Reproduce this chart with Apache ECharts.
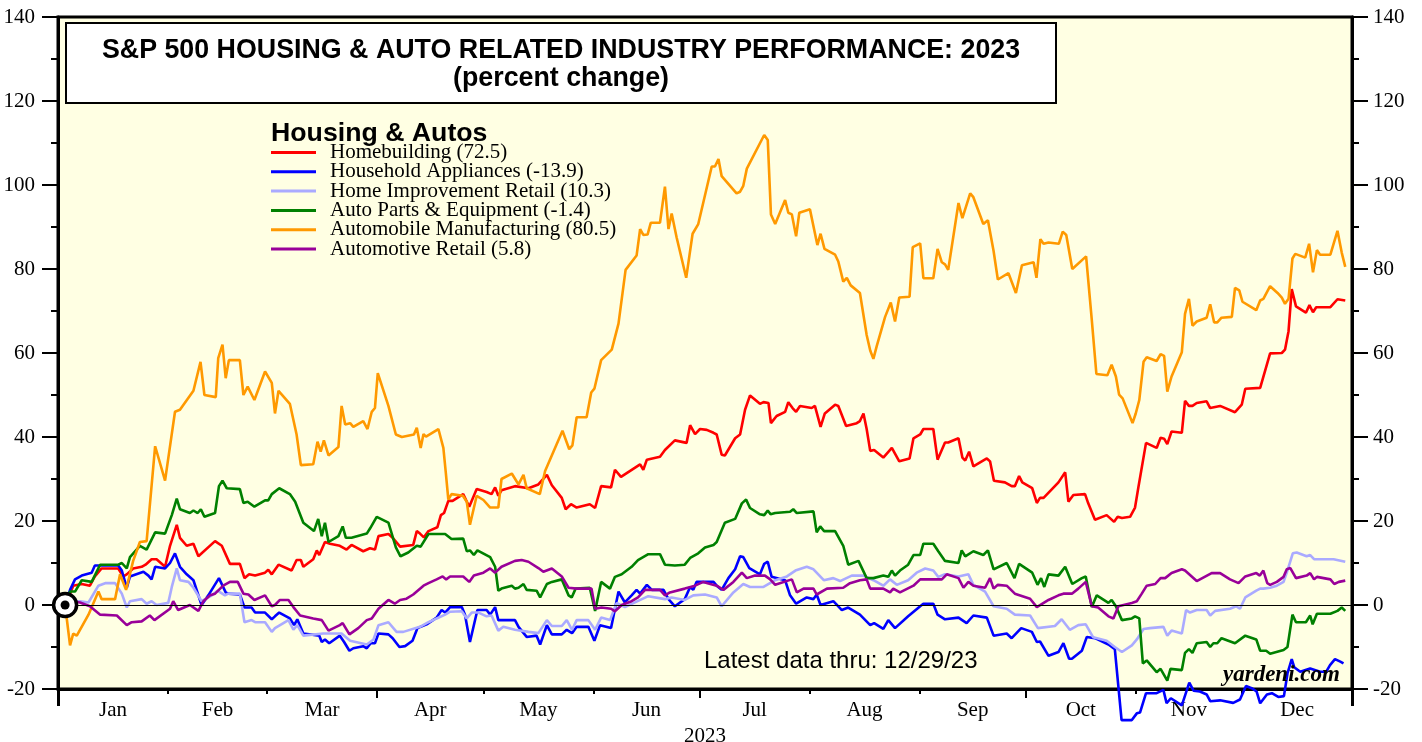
<!DOCTYPE html>
<html>
<head>
<meta charset="utf-8">
<title>S&P 500 Housing & Auto Related Industry Performance: 2023</title>
<script src="https://cdn.jsdelivr.net/npm/echarts@6/dist/echarts.min.js"></script>
<style>
  html, body { margin: 0; padding: 0; background: #fff; }
  #chart { width: 1422px; height: 742px; }
</style>
</head>
<body>
<div id="chart"></div>
<script>
// x = day of 2023 (0 = Jan 1), y = percent change since Dec 30, 2022
const homebuilding = [[2,0],[3.4,2.7],[4.3,4.6],[6.7,5],[9,4.6],[10.4,6.8],[12.3,8.7],[17,8.7],[18.4,6.8],[19.4,7.3],[21.2,8.7],[23.6,9.1],[24.7,9.6],[26.4,10.9],[27.8,10.9],[30.2,9.1],[31.6,14.1],[33.5,19.1],[34.4,16],[36.3,14.1],[38.2,14.6],[39.6,11.6],[44.3,15.2],[46.2,14.1],[48.5,9.8],[51.3,9.8],[52.6,6.4],[53.9,7.3],[55.6,7],[58.4,7.7],[59.3,8.4],[60.3,7.3],
  [62.2,9.6],[65.9,8.2],[67.3,10.7],[68.5,10.7],[69.2,9.1],[72,10.9],[73,13],[73.7,11.9],[75.3,15],[76.7,14.6],[79.5,14.1],[81.4,13.2],[82.8,14.3],[86.1,12.8],[88,13.5],[89.4,13.2],[90.4,16.4],[93.2,16.9],[94.4,16],[96.5,13.9],[100.2,14.3],[101.2,17.6],[102.1,17],[103.2,16.1],[104.5,17.6],[107,18.5],[108,21.4],[108.9,21.9],[110.1,24.8],[111.3,24.8],[114.3,26.4],[116,23.4],[118.1,27.6],[120.9,26.9],
  [122.3,26.4],[123.3,28],[124.2,26],[125.1,27.3],[128.9,28.3],[132.7,27.8],[135.5,28.7],[137.9,31],[139.3,28.5],[142.1,25.5],[143.2,22.8],[144.7,24],[146.3,23.2],[150,24],[151.5,23.1],[153.2,28.3],[156,28],[157.1,32.2],[158.8,30.5],[164.2,33.5],[165.1,32.2],[166.1,34.6],[169.8,35.3],[171.2,36.9],[174,39.2],[177.3,38.6],[178.3,42.8],[179.7,40.7],[181.1,41.9],
  [183,41.7],[184.9,41],[185.8,40.6],[187.2,35.8],[188.1,35.6],[191,39.7],[192.4,40.6],[193.8,46.5],[195.2,49.9],[198,47.9],[199,48.3],[200.4,48.1],[201.1,43.3],[202.7,45],[205.1,46],[206,48.3],[207.2,46.9],[208.2,46],[209.3,47.4],[212.6,46.9],[213.5,47.4],[215.1,42.4],[216.3,45.6],[219.2,47.7],[220.1,47.4],[222.3,42.6],[225.3,43.3],[226.2,43.8],[227.2,45.6],[228.1,41.9],[229.1,36.7],[230.2,36.9],[232.8,35.1],[235.2,37.4],[237.3,34.2],[240.2,34.9],[241.3,39.7],
  [243.2,40.6],[244.1,41.9],[246.9,41.9],[248.1,34.6],[250.2,38.7],[251.1,38.7],[254,39.7],[255.1,35.1],[255.9,34.4],[257,36.5],[258.2,33],[262,34.9],[262.9,34.2],[264,29.6],[267.1,29.2],[269,28.3],[269.9,28.3],[271.1,30.7],[272,29.2],[274.8,27.8],[276.1,24.3],[277,25.5],[278,25.5],[282.2,29.2],[284.1,31.6],[285,24.6],[286.4,26.2],[289.7,26.4],[290.6,24.2],[292.5,20.3],[295.8,21.4],[297.9,19.8],[298.9,21],[300.1,20.7],[302.4,21],
  [303.8,23.2],[304.7,27.8],[306.9,38.6],[309.9,37.4],[311,39.8],[312,39.6],[312.9,38.3],[314.1,41.3],[317,41],[317.9,48.6],[319,47.4],[320,47.4],[321.2,48.1],[324,48.5],[325,46.9],[327.8,47.4],[332,45.9],[333.9,47.7],[334.9,51.5],[339.1,51.7],[341.9,59.9],[345.2,60],[346.1,60.8],[347.1,65.2],[348,75.2],[349.2,71.1],[352,69.6],[353,71.4],[354,69.7],[354.9,70.9],[358.9,70.9],[360.9,72.8],[363.1,72.5]];

const householdAppliances = [[2,0],[3.4,3.6],[4.8,6.1],[6.7,7],[9.5,7.7],[10.4,9.4],[17,9.4],[18,8.2],[19.4,4.1],[20.3,6.8],[24.1,7.9],[25.5,7],[26.4,6.1],[27.4,9.1],[30.2,8.7],[31.6,10],[33,12.3],[34.4,9.1],[36.3,7.3],[38.2,5.9],[40.5,0],[42.4,2.3],[45.4,6.4],[47.3,3],[48,2.7],[51.3,2.5],[52.6,-0.6],[54.6,-0.6],[55.6,-1.8],[58.4,-1.8],[60.3,-3.4],[61.2,-2.7],
  [62.4,-1.8],[65.4,-3.2],[66.6,-4.8],[67.5,-3.4],[69.2,-6.8],[73.7,-7.3],[74.4,-8.8],[75.3,-8.2],[76.5,-9.1],[79.5,-7.3],[80.7,-8.8],[82.2,-10.9],[83.3,-10.3],[86.1,-9.8],[87.1,-10.3],[88.2,-9.1],[89.4,-9.1],[90.4,-6.8],[93.2,-7],[94.4,-7.9],[96.3,-10],[97.9,-9.8],[100,-8.5],[101.4,-5.5],[104,-4.6],[106.8,-3],[108.2,-1.2],[109.2,-1.8],[110.6,-0.5],[113.9,-0.5],[114.8,-2.3],[116.2,-8.8],[118.3,-1.2],[120.9,-1.2],[121.9,-2.3],
  [123.3,-0.5],[124.2,-3.6],[125.1,-3.6],[128.9,-3.6],[129.9,-5.2],[132.2,-7.6],[135,-7.3],[136,-9.4],[137.9,-4.8],[139.3,-7],[142.1,-7],[143.5,-5.9],[145,-6.7],[146.3,-5.2],[149.6,-5.2],[151.3,-8.5],[152.9,-4.8],[156,-5.5],[158.1,3.2],[159.9,0.6],[161.8,2.3],[163.2,3.6],[164.2,2.7],[166.1,4.8],[167.5,3.6],[170.8,3.6],[172.2,1.4],[174,-0.3],[176.8,1.4],[178.3,4.3],[179.2,3.6],[180.1,5.5],
  [184.9,5.5],[185.8,4.6],[187.2,3.6],[189.1,6.4],[191,8.5],[192.4,11.6],[193.3,11.4],[195,8.8],[198,7.3],[199.2,9.8],[200.2,10.3],[201.3,6.7],[205.1,5.9],[206.5,2.3],[208.2,0.3],[211.2,1.8],[213.1,1.4],[214,2.5],[215.1,0],[218.7,0.9],[221.1,-1.2],[222.9,-0.6],[226.2,-2.3],[229.1,-4.8],[230.2,-4.3],[232.8,-5.7],[234.2,-3.6],[236.1,-5.5],[239.8,-2.7],[243.2,-0.3],
  [244.1,0.3],[246.9,0.3],[248.1,-2.3],[250.2,-3.4],[254,-3],[256.3,-4.3],[258.2,-2.5],[262,-3],[263.9,-7.3],[267.6,-6.8],[269,-7.9],[271.7,-5.5],[274.7,-6.4],[276.1,-8.8],[277,-8.7],[279.4,-12.1],[282.2,-11.2],[283.6,-9.1],[285.2,-12.8],[286,-12.8],[288.8,-10.9],[290.2,-7.6],[292.5,-7.9],[296.3,-9.4],[298.1,-10.5],
  [300,-27.4],[302.9,-27.4],[304.3,-25.8],[305.2,-25.6],[306.9,-21],[309.9,-21],[311.8,-20.2],[312.7,-23.4],[313.9,-22.2],[317,-23.9],[319.1,-18.5],[320.3,-20.4],[322.1,-20.6],[324,-21.3],[325,-22.9],[327.8,-22.7],[331.5,-23.3],[333.4,-22.5],[335.1,-19.3],[336.7,-19.8],[338.1,-20.6],[339.1,-23.4],[341,-21.3],[342.4,-21],[344.2,-21.9],[345.8,-21.7],[346.8,-16.3],[348,-12.9],[348.7,-14.8],[350.4,-15.9],[353.2,-15.1],[356,-15.9],[357.7,-15.9],[358.8,-14.3],[360.2,-12.9],[361.7,-13.5],[362.6,-13.9]];

const homeImprovement = [[2,0],[3.9,0.9],[6.2,0.9],[8.6,0.6],[11.4,4.6],[13.3,5.2],[16.1,5.2],[18,2.7],[19.4,-0.6],[20.3,0.9],[23.6,1.4],[25,0.3],[26.4,0.9],[27.8,0],[31.1,0.5],[32.1,4.3],[33.5,8.7],[34.4,5.9],[36.8,5.5],[38.2,4.1],[40.5,0.9],[43.4,2.3],[45,3.4],[47.1,2.3],[48,2.7],[51.3,2.7],[52.6,-4.1],[54.6,-3.6],[55.6,-4.1],[58.4,-4.1],[60.3,-6.4],[61.2,-5.5],
  [65,-3.6],[66.4,-5.9],[67.5,-4.8],[69.2,-7.3],[74.8,-6.8],[80,-6.8],[82.4,-8.5],[87.1,-9.4],[89,-8.2],[90.4,-4.8],[93.2,-4.1],[95.5,-6.4],[97.4,-6.4],[102.1,-5.2],[104.5,-4.1],[106.8,-3.2],[109.2,-2.3],[110.6,-1.6],[113.9,-1.5],[115.3,-3.2],[116.7,-1.8],[118.6,-1.8],[120.9,-2.7],
  [122.3,-2.5],[124.2,-6.1],[125.6,-5.2],[128.9,-5.9],[132.7,-6.4],[135.5,-6.7],[137.9,-3.6],[139.3,-5],[142.1,-5],[143.5,-3.6],[145,-5.9],[146.3,-3.6],[149.6,-3.6],[151.5,-5.9],[153.2,-3],[155.7,-3.6],[157.6,0.5],[159.9,-0.5],[164.7,1.4],[166.5,2.1],[171.2,1.4],[173.1,1.8],[176.8,1.2],[179.2,2.3],[182.5,2.5],
  [185.8,1.8],[187.2,-0.3],[190.5,3],[193.3,5],[195.2,4.3],[199,4.3],[202.3,5.9],[205.6,6.8],[208,8.2],[211.2,9.1],[213.1,8.5],[216,5.9],[218.7,6.4],[220.6,5.7],[223.9,7],[227.2,7],[230,5.9],[232.8,4.6],[234.7,6.1],[236.6,4.8],[239.8,5.9],[242.2,7.7],
  [244.6,8.7],[246.9,8.2],[248.3,6.7],[250.2,7.3],[254,6.8],[256.8,7.3],[258.2,4.8],[261.5,3.2],[263.9,-0.3],[267.6,-0.9],[269.9,-2.3],[274.2,-2.5],[276.4,-5.5],[281.2,-5],[283.1,-3.4],[285.4,-5.9],[287.8,-4.8],[289.9,-4.6],[292,-7.7],[295.8,-8.5],[298.1,-10],[300.1,-11.2],[302.9,-9.6],
  [304.3,-8.2],[306.2,-5.7],[308,-5.5],[311.8,-5.2],[312.9,-7.3],[314.1,-6.1],[317,-6.8],[318.2,-1.2],[319.3,-1.8],[321.2,-1.2],[324,-1.2],[325,-2.5],[326.4,-1.4],[330.6,-0.9],[332.3,-0.3],[333.4,-0.9],[334.9,1.8],[338,3.4],[339.1,3.9],[340,3.9],[341.9,4.1],[343.8,4.6],[345.7,5.5],[346.6,7.7],[348.3,12.3],[349.4,12.5],[352.2,11.6],[353.2,11.9],[354.3,10.9],[357,10.9],[359.8,10.9],[363.1,10.3]];

const autoParts = [[2,0],[3.4,3.2],[4.8,3.2],[6.7,5.9],[9.5,5.5],[11.9,9.6],[17,9.6],[18,10],[19.4,8.7],[20.3,11.4],[23.1,14.1],[25,13.2],[27.4,17.3],[30.2,17],[32.1,21.4],[33.5,25.3],[34.4,22.8],[37.2,21.9],[38.2,22.5],[39.4,21.9],[40.3,22.8],[41.3,21],[44.3,21.9],[45.4,28.3],[46.4,29.6],[47.6,27.8],[51.3,27.6],[52.3,24.3],[53.5,24.6],[55.4,23.4],[58.4,24.9],[59.3,24.9],[60.3,26.4],
  [62.4,27.8],[65.4,26.4],[66.9,24.6],[69.2,19.6],[72.2,17.6],[73.4,20.5],[74.4,16.4],[75.3,19.6],[76.3,15],[79.1,16.4],[80.3,18.7],[81.2,16],[82.8,16],[87.1,17],[88,18.2],[89.9,21],[93.2,19.6],[95.3,13.7],[96.6,11.6],[98.8,12.5],[101.2,14.1],[102.3,13.9],[104.5,16.9],[109.2,16.9],[111,15.7],[114.3,15.8],[115.3,12.8],[116.2,13],[117.3,11.9],[118.3,13],[121.9,11.4],
  [123.3,9.1],[124.2,3.4],[125.1,3.9],[128,4.6],[128.9,3.9],[129.9,4.1],[131.3,5],[132.2,3.6],[135,3.4],[136,1.8],[137.9,5],[139.3,5.5],[142.1,6.1],[144,2.3],[144.9,1.8],[146,3.9],[150,4.1],[151.5,-1.4],[153.2,5.5],[155.7,3.9],[157.1,6.7],[159,7.3],[161.8,9.1],[163.6,10.7],[166.5,12.1],[169.8,12.1],[171.2,9.6],[174,9.4],[176.8,9.6],[178.3,11.2],[180.6,12.3],
  [182.5,13.7],[184.9,14.3],[185.8,15],[188.1,19.6],[191,20.5],[192.9,24.2],[194.1,25.1],[195.2,23.1],[198,21.6],[199.2,21.4],[200.2,22.5],[201,21.6],[202.3,21.9],[206.5,22.2],[207.4,22.8],[208.4,21.9],[213.1,22.3],[214,17.3],[215,18.7],[216.1,17.6],[219.2,17.6],[221.5,14.1],[222.9,9.6],[225.8,10.5],[228.1,6.4],[230,6.4],[232.8,7],[234.2,6.7],[235.2,8.2],[236.1,7],[237.5,8.2],[239.8,9.6],[241.3,11.9],
  [243.2,11.9],[244.1,14.6],[246.9,14.6],[248.3,12.8],[250.2,10.5],[254,10],[254.9,13],[255.9,11.6],[258.2,12.8],[261,11.9],[262.3,13],[263.9,8.5],[267.6,10],[269.8,6.4],[271.1,9.8],[274.8,7.7],[276.3,4.8],[277.3,6.4],[278.2,4.3],[279.4,7.3],[282.2,7],[284.1,9.1],[286.1,5],[288.8,6.4],[289.9,6.8],[291.6,-0.5],[293,2.3],[296.3,0.5],[297.2,1.2],[298.4,-0.3],[300.1,-3.6],[302.9,-3.2],
  [303.8,-2.7],[305,-3.2],[306,-13.9],[307.1,-13.2],[309.9,-16],[311,-15.2],[312.9,-18],[313.8,-15.2],[317,-15.5],[317.9,-11.4],[319,-10.5],[320,-11.4],[321.2,-9.1],[324,-8.8],[325,-10],[325.9,-9.1],[327,-9.1],[328.2,-7.9],[332,-9.1],[334.9,-7.3],[338,-8.2],[339.1,-10.9],[340.8,-10.9],[341.9,-11.6],[345.7,-10.7],[346.8,-10],[348.2,-2.3],[349.2,-4.1],[352,-4.1],[353.2,-2.5],[353.9,-4.6],[355.1,-2.1],[358.9,-2.1],[360.9,-1.4],[362.1,-0.6],[363.1,-1.4]];

const autoMfg = [[2,0],[3.4,-9.6],[4.3,-6.8],[5.3,-7.3],[8.6,-2.3],[11.4,3.2],[12.3,1.4],[16.1,1.4],[17.5,7.3],[19.2,3.6],[21.2,10.5],[23.1,15],[25,15.2],[27.4,37.8],[30.2,29.6],[33,46],[34.4,46.5],[38.2,51],[40.2,57.9],[41.3,50],[44.5,49.5],[45.2,58.8],[46.4,62],[47.3,54],[48.2,58.3],[51.3,58.3],[52.3,50],[53.5,52],[55.4,48.8],[58.4,55.6],[60.3,52.9],[61.2,45.6],
  [62.2,51],[65.4,47.9],[67.3,40.6],[68.5,33.3],[72,33.5],[73.2,38.9],[74.1,36.5],[75,39.2],[76.3,35.6],[79.1,37.6],[80,47.4],[81,43],[82.4,43.3],[83.3,42.4],[86.1,43.8],[87.3,41.9],[88.5,46],[89.4,46.9],[90.2,55.2],[93.2,47.4],[95.3,40.6],[97,40],[100.4,40.6],[101.2,42.2],[102.3,37.4],[103.1,40.7],[103.8,40.1],[107.3,41.9],[108.7,37.4],[109.4,31.4],[110.1,25.1],[111,26.4],[114.2,26],[115.3,24.6],[116.2,19.1],[118.1,26],[120,25],
  [121.9,23.2],[124.2,23.2],[125.1,30],[128,31.3],[129.9,28.7],[131.3,31],[132.2,27.8],[135.9,26.4],[137.4,31.9],[142.3,41.5],[144.2,37.1],[145.1,38],[146.3,44.7],[149.1,44.7],[150.4,50.6],[151.3,51.5],[153.2,58.3],[156.2,60.8],[158.1,67],[160.1,79.8],[163.2,83.2],[164.2,89.5],[165.1,88.1],[166.3,88.2],[167.2,91],[169.8,91],[171.2,99.6],[172.2,89.5],[173.1,93.2],[174.5,87.5],[177.2,77.9],[179,88.4],[180.6,90.7],
  [184.4,104.4],[185.3,104.4],[186.3,106.2],[187.2,102.1],[191.4,98],[192.4,98.4],[193.3,99.8],[194.3,103.9],[199.2,111.9],[200.2,110.7],[201.1,93],[202.3,90.7],[205.1,96.4],[206,93.4],[207,93],[208.2,87.8],[209.1,93.4],[212.1,94.2],[214.2,85.7],[215.1,88.4],[216.2,84.8],[219.2,83.4],[220.1,81.8],[221.5,77],[222.5,77.9],[223.6,76.1],[226.2,74.3],[228.1,64.3],[229.1,60.6],[230,58.6],[230.9,61.5],[233.3,68.6],[234.9,72],[236.1,67.5],[237.3,73.2],[240.2,73.4],[241.1,85.2],[243.2,86.1],
  [244.1,77.8],[246.9,77.8],[248.1,84.8],[249.3,81.6],[250.2,81.1],[251.1,79.8],[254,95.7],[255.1,92.1],[257.3,98],[258.2,97.1],[261,90.7],[262.3,91.6],[263.9,84.3],[265.1,77.5],[268.1,79],[270.2,74.3],[271.9,80.9],[275.2,81.6],[276,77.9],[277.1,87.1],[278,86],[279.4,86.3],[282.3,86],[283.4,88.9],[284.4,88.1],[286.1,80],[290,83],[291.6,67.9],[292.9,55],[296,54.7],[297.2,57.2],[298.4,54.4],[299.3,50.1],[300.3,49.2],[303.1,43.3],[304,45.6],
  [305,48.8],[306.2,57.9],[307.1,59],[309.9,58.1],[311,59.7],[312,59.3],[312.9,50.8],[314.1,54.4],[317,60.2],[317.9,69.3],[319,72.9],[320,66.5],[321.2,67.5],[324,68.4],[325,71.6],[326.1,67.3],[327,67.3],[328.2,68.4],[331.1,68.6],[332,75.5],[333.2,74.9],[334.1,72.2],[338,70.2],[339.1,72.5],[340,72.9],[341.9,75.9],[344,74.3],[345.2,73.2],[346.1,71.7],[347.1,72.9],[348.2,82.5],[349,83.6],[351.8,82.7],[352.9,86],[354,79.2],[355.1,84.5],[356,83.4],[358.9,83.4],[360.9,89.1],[362.1,83.9],[363.1,80.5]];

const autoRetail = [[2,0],[3.9,0.9],[6.2,0.6],[9,-0.3],[11.9,-2.3],[16.6,-2.5],[19.4,-4.8],[20.8,-4.1],[23.6,-3.9],[25.9,-2.5],[27.2,-3.6],[31.6,-0.9],[32.5,0.9],[33.9,-1.2],[37.2,0],[39.6,-1.4],[41,0.9],[42.9,2.3],[44.3,2.7],[46.6,4.6],[48.5,5.5],[50.7,5.5],[52.3,2.7],[53.7,2.5],[55.4,1.2],[58.4,2.3],[60.3,-0.3],[61.2,0],
  [62.6,1.2],[65,1.2],[66.4,-0.5],[68.3,-2.5],[72,-3.2],[74.4,-3.6],[76.3,-6.1],[79.5,-4.8],[80.3,-4.3],[82.2,-7],[84.7,-5.5],[87.1,-3.6],[88.5,-3.2],[90.4,-0.9],[93.2,1.2],[95,0.3],[96.5,1.2],[98.3,1.5],[100.2,2.5],[103.1,4.6],[104.5,5.2],[106.8,6.1],[108.5,6.8],[109.5,6.1],[110.6,6.8],[114.3,6.8],[116,5.5],[117.3,7],[120,7.7],[121.9,8.7],
  [123.3,7.7],[125.1,9.1],[128.9,10.5],[130.8,10.7],[132.7,10.3],[135.5,8.8],[136.9,7.9],[139.3,8.7],[142.1,6.8],[144,4.1],[146.3,3.9],[150.5,3.9],[151.5,-0.9],[153.3,-0.6],[156,-0.9],[157.1,-1.5],[159,0],[161.8,0.9],[163.6,1.8],[165.6,3.6],[169.8,3.6],[171.2,2.3],[172.6,3],[176.8,3.9],[179.7,4.6],[182,5.5],
  [184,5],[185.8,4.6],[187.7,3.6],[190.5,5.5],[192.9,7.7],[194.3,6.4],[196.6,7],[199.4,7],[200.9,6.1],[202.3,4.8],[207,6.1],[208.4,3],[210.3,3.9],[213.1,3.9],[214,2.5],[216.9,3.9],[221.5,4.1],[223.4,5.2],[226.2,5.9],[228.1,6.1],[229.1,3.9],[232.8,3.9],[234.7,3],[235.6,3.9],[237.5,3],[241.3,4.6],[243.2,6.1],
  [244.1,6.1],[249.3,6.1],[250.7,7.3],[254,6.4],[255.4,4.1],[256.8,5.5],[258.2,4.6],[261.5,4.1],[262.9,6.4],[263.9,3.9],[265.1,4.8],[267.6,4.6],[269.9,2.7],[274.2,1.5],[276.1,-0.5],[279.4,1.2],[282.2,2.3],[283.6,2.7],[286,2.7],[287.8,3.9],[289.9,5.5],[291.6,-0.3],[293.4,-0.6],[296.3,-2.7],[297.7,-3.2],[299.1,-0.3],[302.9,0.5],
  [304.3,0.9],[305.7,2.7],[307.1,4.6],[309.5,5],[311,6.4],[312.3,6.4],[314.1,7.6],[317,8.5],[317.9,8.2],[321.2,5.7],[325.4,7.6],[327.8,7.6],[330.6,6.1],[333,5.2],[334.9,6.8],[338,7.6],[339,7],[340,8.2],[341.1,5.2],[341.9,4.8],[343.8,5.5],[345.7,6.7],[346.6,8.5],[347.6,8.8],[349.2,6.4],[352.2,7],[353.2,7.6],[354.3,6.1],[355.1,6.7],[358.9,6.1],[360,5],[361.3,5.5],[363.1,5.8]];

const startPoint = [[2, 0]];

const seriesNames = [
  'Homebuilding (72.5)',
  'Household Appliances (-13.9)',
  'Home Improvement Retail (10.3)',
  'Auto Parts & Equipment (-1.4)',
  'Automobile Manufacturing (80.5)',
  'Automotive Retail (5.8)'
];
const seriesColors = ['#FF0000', '#0000FF', '#AAAAFF', '#008000', '#FF9900', '#990099'];
const monthLabels = ['Jan','Feb','Mar','Apr','May','Jun','Jul','Aug','Sep','Oct','Nov','Dec'];

// day-of-year helpers for the axis ticks
const dayMs = 86400000;
const jan1 = Date.UTC(2023, 0, 1);
const dayOf = (y, m, d) => (Date.UTC(y, m, d) - jan1) / dayMs;
const monthStarts = [];
const monthMids = [];
for (let m = 0; m < 12; m++) {
  const a = dayOf(2023, m, 1);
  const b = dayOf(2023, m + 1, 1);
  if (m > 0) monthStarts.push(a);
  monthMids.push((a + b) / 2);
}
const quarterStarts = [dayOf(2023, 3, 1), dayOf(2023, 6, 1), dayOf(2023, 9, 1)];
const yearEnds = [0, 365];

const serif = 'Liberation Serif, Times New Roman, serif';
const sans = 'Liberation Sans, Arial, sans-serif';

const chart = echarts.init(document.getElementById('chart'));

const dataSets = [homebuilding, householdAppliances, homeImprovement, autoParts, autoMfg, autoRetail];

const lineSeries = dataSets.map((arr, i) => ({
  name: seriesNames[i],
  type: 'line',
  data: arr,
  showSymbol: false,
  symbol: 'none',
  clip: false,
  lineStyle: { width: 2.6, color: seriesColors[i] },
  itemStyle: { color: seriesColors[i] },
  z: 3
}));

// 零线
lineSeries[0].markLine = {
  silent: true,
  symbol: ['none', 'none'],
  label: { show: false },
  lineStyle: { color: '#000', width: 1, type: 'solid' },
  data: [{ yAxis: 0 }]
};

const baseX = {
  type: 'value',
  min: 0,
  max: 365,
  position: 'bottom',
  splitLine: { show: false },
  axisLine: { show: false, onZero: false },
  axisLabel: { show: false }
};

const baseY = {
  type: 'value',
  min: -20,
  max: 140,
  interval: 20,
  splitLine: { show: false },
  axisLine: { show: true, onZero: false, lineStyle: { color: '#000', width: 3 } },
  axisTick: { show: true, length: 16, lineStyle: { color: '#000', width: 2 } },
  minorTick: { show: true, splitNumber: 2, length: 7, lineStyle: { color: '#000', width: 2 } },
  axisLabel: { color: '#000', fontFamily: serif, fontSize: 21 }
};

const option = {
  animation: false,
  backgroundColor: '#ffffff',
  title: [
    {
      text: 'S&P 500 HOUSING & AUTO RELATED INDUSTRY PERFORMANCE: 2023\n(percent change)',
      left: 561,
      top: 37,
      textAlign: 'center',
      z: 10,
      padding: 0,
      textStyle: { fontFamily: sans, fontWeight: 'bold', fontSize: 26.8, lineHeight: 28, color: '#000' }
    },
    {
      text: 'Housing & Autos',
      left: 271,
      top: 120,
      padding: 0,
      textStyle: { fontFamily: sans, fontWeight: 'bold', fontSize: 26.7, color: '#000' }
    },
    {
      text: 'Latest data thru: 12/29/23',
      left: 704,
      top: 649,
      padding: 0,
      textStyle: { fontFamily: sans, fontWeight: 'normal', fontSize: 24, color: '#000' }
    },
    {
      text: 'yardeni.com',
      left: 1223,
      top: 664,
      padding: 0,
      textStyle: { fontFamily: serif, fontWeight: 'bold', fontStyle: 'italic', fontSize: 23, color: '#000' }
    }
  ],
  graphic: [
    {
      type: 'rect',
      z: 5,
      shape: { x: 66, y: 23, width: 990, height: 80 },
      style: { fill: '#ffffff', stroke: '#000', lineWidth: 2 }
    }
  ],
  legend: {
    data: seriesNames,
    orient: 'vertical',
    left: 271,
    top: 142,
    icon: 'rect',
    itemWidth: 45,
    itemHeight: 3,
    itemGap: -1.7,
    padding: 0,
    selectedMode: false,
    textStyle: { fontFamily: serif, fontSize: 21, color: '#000', padding: [0, 0, 0, 9] }
  },
  grid: {
    left: 58,
    right: 70,
    top: 17,
    bottom: 53,
    outerBoundsMode: 'none',
    show: true,
    backgroundColor: '#FFFFE3',
    borderColor: '#000',
    borderWidth: 3
  },
  xAxis: [
    Object.assign({}, baseX, {
      axisLine: { show: true, onZero: false, lineStyle: { color: '#000', width: 3 } },
      axisTick: { show: true, customValues: monthStarts, length: 5, lineStyle: { color: '#000', width: 2 } },
      axisLabel: {
        show: true,
        customValues: monthMids,
        hideOverlap: false,
        margin: 11,
        color: '#000',
        fontFamily: serif,
        fontSize: 21,
        formatter: v => monthLabels[Math.min(11, monthStarts.filter(s => s <= v).length)]
      },
      name: '2023',
      nameLocation: 'middle',
      nameGap: 27,
      nameTextStyle: { color: '#000', fontFamily: serif, fontSize: 21 }
    }),
    Object.assign({}, baseX, {
      axisTick: { show: true, customValues: quarterStarts, length: 9, lineStyle: { color: '#000', width: 2 } }
    }),
    Object.assign({}, baseX, {
      axisTick: { show: true, customValues: yearEnds, length: 17, lineStyle: { color: '#000', width: 3 } }
    })
  ],
  yAxis: [
    Object.assign({}, baseY, { position: 'left', axisLabel: Object.assign({}, baseY.axisLabel, { margin: 23 }) }),
    Object.assign({}, baseY, { position: 'right', axisLabel: Object.assign({}, baseY.axisLabel, { margin: 21 }) })
  ],
  series: lineSeries.concat([
    {
      name: 'start',
      type: 'scatter',
      data: startPoint,
      symbol: 'circle',
      symbolSize: 23,
      silent: true,
      z: 8,
      itemStyle: { color: '#ffffff', borderColor: '#000', borderWidth: 3.5, opacity: 1 }
    },
    {
      name: 'startDot',
      type: 'scatter',
      data: startPoint,
      symbol: 'circle',
      symbolSize: 9,
      silent: true,
      z: 9,
      itemStyle: { color: '#000', opacity: 1 }
    }
  ])
};

chart.setOption(option);
</script>
</body>
</html>
